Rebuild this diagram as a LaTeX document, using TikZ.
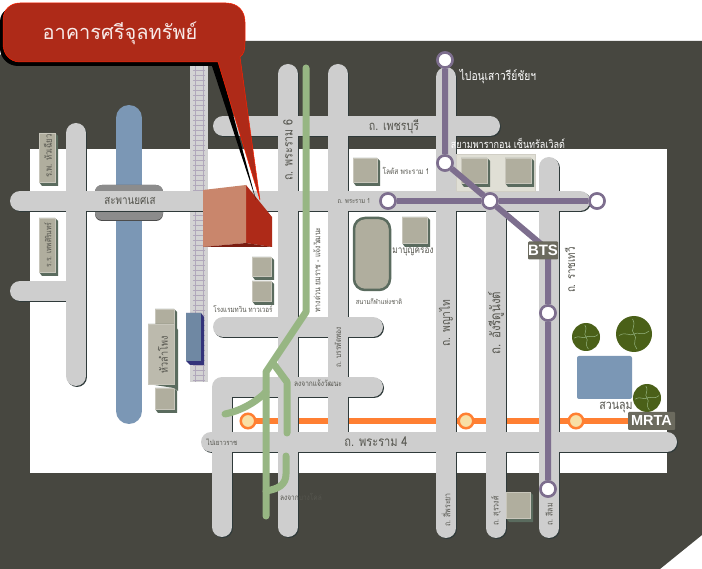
\documentclass[tikz,border=0pt]{standalone}
\usepackage{fontspec}
\newfontfamily\thaifont[Script=Thai]{Loma}
\newfontfamily\thainarrow[Script=Thai,FakeStretch=0.82]{Loma}
\setmainfont{Liberation Sans}
\definecolor{darkbg}{HTML}{474740}
\definecolor{roadc}{HTML}{CECECE}
\definecolor{roadsh}{HTML}{2F3A3A}
\definecolor{waterc}{HTML}{7B97B5}
\definecolor{redc}{HTML}{AE2A18}
\definecolor{redl}{HTML}{C9866C}
\definecolor{greenc}{HTML}{97B683}
\definecolor{purplec}{HTML}{7D6E8E}
\definecolor{orangec}{HTML}{FF7F32}
\definecolor{stationc}{HTML}{F8DFA5}
\definecolor{boxf}{HTML}{B0AE9E}
\definecolor{boxs}{HTML}{5A6B5E}
\definecolor{treec}{HTML}{4A6018}
\definecolor{labelc}{HTML}{55554E}
\definecolor{beigec}{HTML}{E0DFD5}
\definecolor{tagc}{HTML}{6B6A5E}
\tikzset{
 x=1pt,y=-1pt,
 road/.style={line width=20pt,draw=roadc,line cap=round,line join=round},
 gline/.style={line width=7pt,draw=greenc,line cap=round,line join=round},
 pline/.style={line width=6pt,draw=purplec,line join=round},
 oline/.style={line width=6pt,draw=orangec},
 btsst/.style={circle,draw=purplec,fill=white,line width=2.5pt,minimum size=15pt,inner sep=0pt},
 mrtst/.style={circle,draw=orangec,fill=stationc,line width=2.5pt,minimum size=14.5pt,inner sep=0pt},
 lab/.style={font=\thainarrow\fontsize{#1}{#1}\selectfont,text=labelc,inner sep=0pt},
 lab/.default=8,
 wlab/.style={font=\thainarrow\fontsize{#1}{#1}\selectfont,text=white,inner sep=0pt},
 tag/.style={fill=tagc,text=white,font=\bfseries\fontsize{#1}{#1}\selectfont,inner sep=0pt,minimum height=18pt,rounded corners=1pt},
 boxfront/.style={fill=boxf,draw=boxf!70!white,line width=.6pt},
 boxside/.style={fill=boxs},
 tree/.style={circle,fill=treec,inner sep=0pt,minimum size=#1},
 squig/.style={draw=greenc,line width=.5pt},
}
\newcommand{\boxthreed}[4]{% x0 y0 x1 y1
 \fill[boxside] (#1,#2) -- (#3,#2) -- (#3+3,#2+3) -- (#3+3,#4+4) -- (#1+3,#4+4) -- (#1,#4) -- cycle;
 \draw[boxfront] (#1,#2) rectangle (#3,#4);
}
\newcommand{\allroads}{%
\draw[road] (223,126) -- (490,126);
\draw[road] (288,74) -- (288,527);
\draw[road] (338,74) -- (338,442);
\draw[road] (223,327) -- (373,327);
\draw[road] (373,387) -- (222,387) -- (222,527);
\draw[road] (20,201) -- (580,201);
\draw[road] (76,133) -- (76,376);
\draw[road] (20,291) -- (76,291);
\draw[road] (211,442) -- (667,442);
\draw[road] (446,77) -- (446,528);
\draw[road] (496,201) -- (496,528);
\draw[road] (549,167) -- (549,528);
}
\begin{document}
\begin{tikzpicture}
\useasboundingbox (0,0) rectangle (702,569);
\fill[white] (0,0) rectangle (702,569);
% ground
\fill[darkbg] (0,55) -- (20,41) -- (702,41) -- (702,535) -- (660,569) -- (0,569) -- cycle;
\fill[white] (30,149) rectangle (667,473);
% river and bridge
\draw[line width=26pt,draw=waterc,line cap=round] (129,118) -- (129,411);
\fill[black!70,rounded corners=7pt] (95,185) rectangle (163,221);
\fill[black!45,rounded corners=7pt] (95,185) rectangle (163,220);
% rail
\fill[roadc!90!white] (190,60) rectangle (208,382);
\foreach \ty in {70,75,...,380} \draw[purplec!60!white,line width=.7pt] (193,\ty) -- (205,\ty);
\draw[purplec!60!white,line width=.7pt] (195,62) -- (195,382) (203,62) -- (203,382);
% orange line below the roads
\coordinate (m1) at (248,421);
\coordinate (m2) at (466,421);
\coordinate (m3) at (576,421);
\coordinate (m4) at (632,421);
\draw[oline] (m1) -- (m4);
% roads
\begin{scope}[shift={(1,1)},road/.style={line width=20pt,draw=roadsh,line cap=round,line join=round}]
\allroads
\end{scope}
\allroads
% green expressway
\coordinate (g0) at (306,68);
\coordinate (g1) at (306,312);
\coordinate (g2) at (266,372);
\coordinate (g3) at (266,516);
\coordinate (g4) at (273,363);
\coordinate (g5) at (287,382);
\coordinate (g6) at (287,433);
\coordinate (g7) at (225,414);
\coordinate (g8) at (266,392);
\coordinate (g9) at (286,456);
\coordinate (g10) at (286,474);
\coordinate (g11) at (266,491);
\draw[gline] (g0) -- (g1) -- (g2) -- (g3);
\draw[gline] (g4) -- (g5) -- (g6);
\draw[gline] (g7) .. controls (240,411) and (255,403) .. (g8);
\draw[gline] (g9) -- (g10) .. controls (286,485) and (278,489) .. (g11);
% buildings
\boxthreed{39}{133}{55}{182}
\boxthreed{39}{218}{55}{272}
\boxthreed{252}{257}{271}{276}
\boxthreed{252}{281}{271}{301}
\boxthreed{353}{158}{377}{182}
\fill[beigec,draw=boxf!60!white] (456,154) rectangle (535,191);
\boxthreed{461}{158}{487}{183}
\boxthreed{505}{158}{531}{183}
% purple line
\node[btsst] (b1) at (445,60) {};
\node[btsst] (b2) at (445,163) {};
\node[btsst] (b3) at (388,201) {};
\node[btsst] (b4) at (490,201) {};
\node[btsst] (b5) at (597,201) {};
\node[btsst] (b6) at (548,313) {};
\node[btsst] (b7) at (548,489) {};
\coordinate (bc) at (548,250);
\draw[pline] (b1) -- (b2) -- (b4) -- (bc) -- (b6) -- (b7);
\draw[pline] (b3) -- (b4) -- (b5);
\node[btsst] at (b1) {};
\node[btsst] at (b2) {};
\node[btsst] at (b3) {};
\node[btsst] at (b4) {};
\node[btsst] at (b5) {};
\node[btsst] at (b6) {};
\node[btsst] at (b7) {};
\node[mrtst] (ms1) at (m1) {};
\node[mrtst] (ms2) at (m2) {};
\node[mrtst] (ms3) at (m3) {};
\boxthreed{402}{217}{427}{243}
\draw[fill=boxf,draw=boxs,line width=2.5pt,rounded corners=11pt] (354,218) rectangle (390,290);
% Hua Lamphong
\boxthreed{155}{309}{174}{325}
\boxthreed{155}{388}{174}{409}
\fill[boxs] (148,324) -- (174,324) -- (178,330) -- (178,391) -- (174,388) -- (148,384) -- cycle;
\draw[boxfront,fill=boxf!85!white] (148,324) rectangle (174,384);
% blue train
\fill[blue!35!black!80!white] (186,313) -- (201,313) -- (204,317) -- (204,365) -- (190,365) -- (186,361) -- cycle;
\fill[waterc!90!black] (186,313) rectangle (201,361);
\boxthreed{506}{492}{530}{518}
% park
\fill[waterc,rounded corners=2pt] (577,356) rectangle (632,399);
\node[tree=28pt] (t1) at (586,337) {};
\node[tree=36pt] (t2) at (634,334) {};
\node[tree=28pt] (t3) at (647,398) {};
\foreach \cx/\cy/\rr in {586/337/12,634/334/15,647/398/12}{
 \draw[squig] (\cx,\cy) .. controls (\cx-.3*\rr,\cy-.3*\rr) and (\cx+.2*\rr,\cy-.5*\rr) .. (\cx-.1*\rr,\cy-\rr);
 \draw[squig] (\cx,\cy) .. controls (\cx+.3*\rr,\cy-.2*\rr) and (\cx+.5*\rr,\cy+.2*\rr) .. (\cx+\rr,\cy-.2*\rr);
 \draw[squig] (\cx,\cy) .. controls (\cx+.3*\rr,\cy+.3*\rr) and (\cx-.2*\rr,\cy+.5*\rr) .. (\cx+.2*\rr,\cy+\rr);
 \draw[squig] (\cx,\cy) .. controls (\cx-.3*\rr,\cy+.2*\rr) and (\cx-.5*\rr,\cy-.2*\rr) .. (\cx-\rr,\cy+.1*\rr);
}
% main building
\fill[redc] (246,185) -- (272,217) -- (272,247) -- (246,243) -- cycle;
\fill[redl] (203,190) -- (246,185) -- (246,243) -- (203,247) -- cycle;
\fill[redc!70!black] (203,247) -- (246,243) -- (272,247) -- cycle;
% callout
\fill[black] (0,22) .. controls (0,10) and (10,7) .. (18,7) -- (228,7) .. controls (238,7) and (242,15) .. (242,25) -- (242,48) .. controls (242,60) and (232,66) .. (218,66) -- (220,66) -- (256,200) -- (212,66) -- (18,66) .. controls (8,66) and (0,58) .. (0,48) -- cycle;
\fill[redc,draw=red!75!orange,line width=.5pt] (3,20) .. controls (3,9) and (11,3) .. (20,3) -- (226,3) .. controls (238,3) and (245,11) .. (245,22) -- (245,42) .. controls (245,50) and (244,54) .. (240,57) -- (260,200) -- (218,62) -- (20,62) .. controls (10,62) and (3,54) .. (3,44) -- cycle;
% labels
\node[font=\thaifont\fontsize{20}{20}\selectfont,text=white!90!redc,inner sep=0pt] (title) at (120,33) {อาคารศรีจุลทรัพย์};
\node[lab=13] (l1) at (394,127) {ถ. เพชรบุรี};
\node[lab=13,rotate=90] (l2) at (288,150) {ถ. พระราม 6};
\node[lab=12] (l3) at (130,201) {สะพานยศเส};
\node[lab=7] (l4) at (354,201) {ถ. พระราม 1};
\node[lab=8] (l5) at (406,171) {โลตัส พระราม 1};
\node[lab=10] (l6) at (413,252) {มาบุญครอง};
\node[lab=7] (l7) at (379,302) {สนามกีฬาแห่งชาติ};
\node[wlab=12.5] (l8) at (498,77) {ไปอนุเสาวรีย์ชัยฯ};
\node[wlab=11] (l9) at (508,143) {สยามพารากอน เซ็นทรัลเวิลด์};
\node[lab=12,rotate=90] (l10) at (570,270) {ถ. ราชเทวี};
\node[lab=12.5,rotate=90] (l11) at (446,323) {ถ. พญาไท};
\node[lab=14,rotate=90] (l12) at (496,323) {ถ. อังรีดูนังต์};
\node[lab=13.5] (l13) at (376,442) {ถ. พระราม 4};
\node[lab=7.5] (l14) at (222,442) {ไปเยาวราช};
\node[lab=8,rotate=90] (l15) at (338,347) {ถ. บรรทัดทอง};
\node[lab=8.4,rotate=90] (l16) at (317,270) {ทางด่วน ยมราช - แจ้งวัฒนะ};
\node[lab=7.6] (l17) at (243,309) {โรงแรมทวิน ทาวเวอร์};
\node[lab=8] (l18) at (318,383) {ลงจากแจ้งวัฒนะ};
\node[lab=8] (l19) at (301,497) {ลงจากบางโคล่};
\node[lab=8.5,rotate=90] (l20) at (446,510) {ถ. สี่พระยา};
\node[lab=8.5,rotate=90] (l21) at (496,511) {ถ. สุรวงศ์};
\node[lab=8.5,rotate=90] (l22) at (549,514.5) {ถ. สีลม};
\node[lab=11,rotate=90] (l23) at (163,355) {หัวลำโพง};
\node[lab=9.5,rotate=90] (l24) at (48,156) {ร.พ. หัวเฉียว};
\node[lab=8,rotate=90] (l25) at (48,245) {ร.ร. เทพศิรินทร์};
\node[lab=13] (l26) at (616,407) {สวนลุม};
\node[tag=15,minimum width=30pt] (bts) at (543,250.5) {BTS};
\node[tag=14.5,minimum width=47pt] (mrta) at (651.5,421) {MRTA};
\end{tikzpicture}
\end{document}
